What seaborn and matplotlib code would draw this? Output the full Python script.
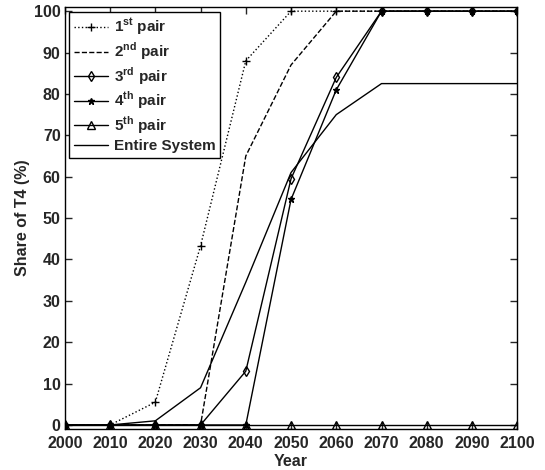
import matplotlib
matplotlib.use("Agg")
import matplotlib.pyplot as plt
import seaborn as sns
import numpy as np

years = [2000, 2010, 2020, 2030, 2040, 2050, 2060, 2070, 2080, 2090, 2100]
pair1 = [0, 0, 5.5, 43.3, 88, 100, 100, 100, 100, 100, 100]
pair2 = [0, 0, 0, 0, 65, 87, 100, 100, 100, 100, 100]
pair3 = [0, 0, 0, 0, 13, 59.5, 84, 100, 100, 100, 100]
pair4 = [0, 0, 0, 0, 0, 54.5, 81, 100, 100, 100, 100]
pair5 = [0, 0, 0, 0, 0, 0, 0, 0, 0, 0, 0]
entire = [0, 0, 1, 9, 34.5, 61, 75, 82.5, 82.5, 82.5, 82.5]

labels = [r"1$^{\bf st}$ pair", r"2$^{\bf nd}$ pair", r"3$^{\bf rd}$ pair",
          r"4$^{\bf th}$ pair", r"5$^{\bf th}$ pair", "Entire System"]

sns.set_style("ticks")
plt.rcParams["font.family"] = ["Liberation Sans", "DejaVu Sans"]
plt.rcParams["font.weight"] = "bold"
plt.rcParams["mathtext.fontset"] = "custom"
plt.rcParams["mathtext.rm"] = "Liberation Sans:bold"
plt.rcParams["mathtext.bf"] = "Liberation Sans:bold"

fig = plt.figure(figsize=(5.45, 4.7), dpi=100)
ax = fig.add_axes([0.119, 0.087, 0.830, 0.898])

styles = [
    (pair1, ":", "+", 6, "k"),
    (pair2, "--", None, 0, "k"),
    (pair3, "-", "d", 5, "none"),
    (pair4, "-", "*", 5, "k"),
    (pair5, "-", "^", 6, "none"),
    (entire, "-", None, 0, "k"),
]
for (vals, ls, mk, ms, mfc), lab in zip(styles, labels):
    sns.lineplot(x=years, y=vals, ax=ax, color="k", linestyle=ls, linewidth=1,
                 marker=mk, markersize=ms, markerfacecolor=mfc,
                 markeredgecolor="k", markeredgewidth=1, label=lab)

ax.set_xlim(2000, 2100)
ax.set_ylim(-1, 101)
ax.set_xticks(years)
ax.set_yticks(range(0, 101, 10))
ax.tick_params(direction="in", top=True, right=True, length=5, width=1,
               labelsize=11.5)
ax.tick_params(axis="x", pad=5)
ax.tick_params(axis="y", pad=3)
for lab in ax.get_xticklabels() + ax.get_yticklabels():
    lab.set_fontweight("bold")
for s in ax.spines.values():
    s.set_linewidth(1)
    s.set_color("k")

ax.set_xlabel("Year", fontsize=11.5, fontweight="bold", labelpad=2)
ax.set_ylabel("Share of T4 (%)", fontsize=11.5, fontweight="bold", labelpad=3)

leg = ax.legend(loc="upper left", fontsize=11, frameon=True, fancybox=False,
                edgecolor="k", framealpha=1, borderaxespad=0.3,
                handlelength=2.2, handletextpad=0.4, labelspacing=0.2,
                borderpad=0.3)
leg.get_frame().set_linewidth(1)

fig.savefig("out.png", dpi=100)
